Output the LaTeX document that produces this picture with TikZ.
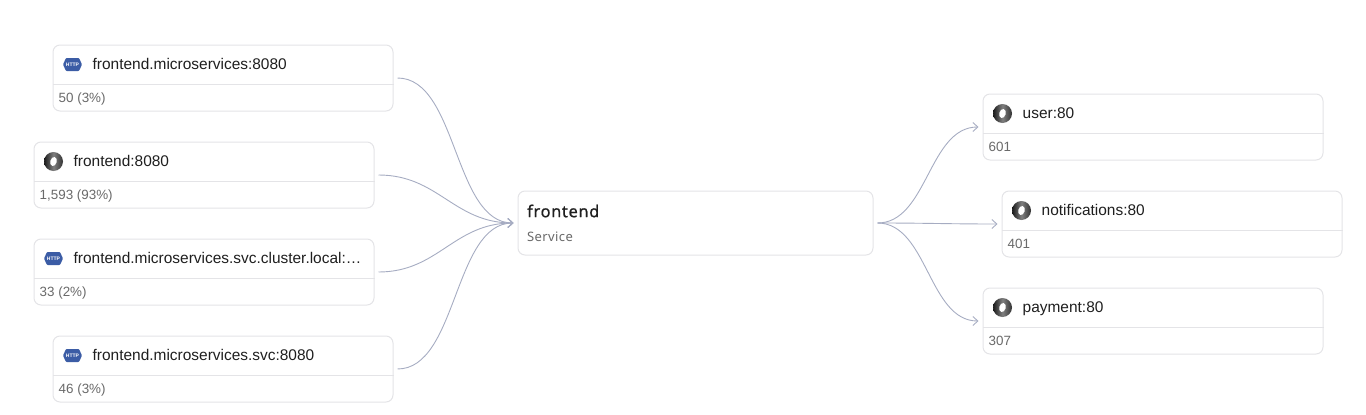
\documentclass[tikz,border=0pt]{standalone}
\usepackage{fontspec}
\setmainfont{Liberation Sans}
\newfontfamily\titlefont[LetterSpace=3]{Noto Sans}
\newfontfamily\headfont[FakeBold=0.6, LetterSpace=4]{Noto Sans}
\usetikzlibrary{arrows.meta, calc}
\definecolor{boxline}{HTML}{E4E4E7}
\definecolor{flowline}{HTML}{A6ACC2}
\definecolor{counttext}{HTML}{6A6A6A}
\definecolor{titletext}{HTML}{1F1F1F}
\definecolor{httpblue}{HTML}{3B5CA5}
\tikzset{
	cardbox/.style={draw=boxline, line width=1pt, fill=white, rounded corners=7pt, minimum width=340pt, minimum height=66pt, inner sep=0pt},
	svcbox/.style={draw=boxline, line width=1pt, fill=white, rounded corners=7pt, minimum width=355pt, minimum height=64pt, inner sep=0pt},
	cardtitle/.style={anchor=base west, inner sep=0pt, text=titletext, font=\fontsize{15.45}{17}\selectfont},
	cardcount/.style={anchor=base west, inner sep=0pt, text=counttext, font=\fontsize{13.4}{15}\selectfont},
	flow/.style={draw=flowline, line width=0.9pt, shorten <=4pt, shorten >=4pt},
	flowtip/.style={-{Straight Barb[length=5pt,width=9pt]}}
}
\begin{document}
\begin{tikzpicture}[x=1pt, y=-1pt]
\useasboundingbox (0,0) rectangle (1366,415);

\node[svcbox] (svc) at (695.5,223) {};
\node[anchor=west, inner sep=0pt, text=titletext, font=\headfont\fontsize{16.4}{18}\selectfont] (svctitle) at (527,211) {frontend};
\node[anchor=west, inner sep=0pt, text=counttext, font=\titlefont\fontsize{13}{14}\selectfont] (svctype) at (527,237) {Service};

\foreach \name/\i/\j/\lab/\num in {
	micro/223/78/{frontend.microservices:8080}/{50 (3\%)},
	front/204/175/{frontend:8080}/{1,593 (93\%)},
	local/204/272/{frontend.microservices.svc.cluster.local:…}/{33 (2\%)},
	msvc/223/369/{frontend.microservices.svc:8080}/{46 (3\%)},
	user/1153/127/{user:80}/{601},
	notif/1172/224/{notifications:80}/{401},
	pay/1153/321/{payment:80}/{307}}
{
	\node[cardbox] (\name) at (\i,\j) {};
	\draw[boxline, line width=1pt] ([yshift=-40pt]\name.north west) -- ([yshift=-40pt]\name.north east);
	\node[cardtitle] (\name title) at ([shift={(40pt,-25pt)}]\name.north west) {\lab};
	\node[cardcount] (\name count) at ([shift={(6pt,-58pt)}]\name.north west) {\num};
}

\foreach \name in {micro, local, msvc}
{
	\node[inner sep=0pt, minimum size=0pt] (\name icon) at ([shift={(20pt,-20pt)}]\name.north west) {};
	\fill[httpblue, rounded corners=0.8pt] ([xshift=-9.5pt]\name icon.center) -- ++(3,-6.5) -- ++(13,0) -- ++(3,6.5) -- ++(-3,6.5) -- ++(-13,0) -- cycle;
	\node[text=white, inner sep=0pt, font=\bfseries\fontsize{5}{5}\selectfont] at (\name icon) {HTTP};
}

\foreach \name in {front, user, notif, pay}
{
	\node[inner sep=0pt, minimum size=0pt] (\name icon) at ([shift={(20pt,-20pt)}]\name.north west) {};
	\shade[left color=black!90, right color=black!80, middle color=black!50] (\name icon) circle[radius=9.5];
	\fill[white, rotate around={-15:(\name icon)}] (\name icon) ellipse[x radius=3.2, y radius=4.6];
}

\foreach \name in {micro, front, local, msvc}
	\draw[flow, flowtip] (\name.east) .. controls +(64,0) and ($(svc.west)+(-64,0)$) .. (svc.west);

\foreach \name in {user, notif, pay}
	\draw[flow, flowtip] (svc.east) .. controls +(54,0) and ($(\name.west)+(-54,0)$) .. (\name.west);

\end{tikzpicture}
\end{document}
